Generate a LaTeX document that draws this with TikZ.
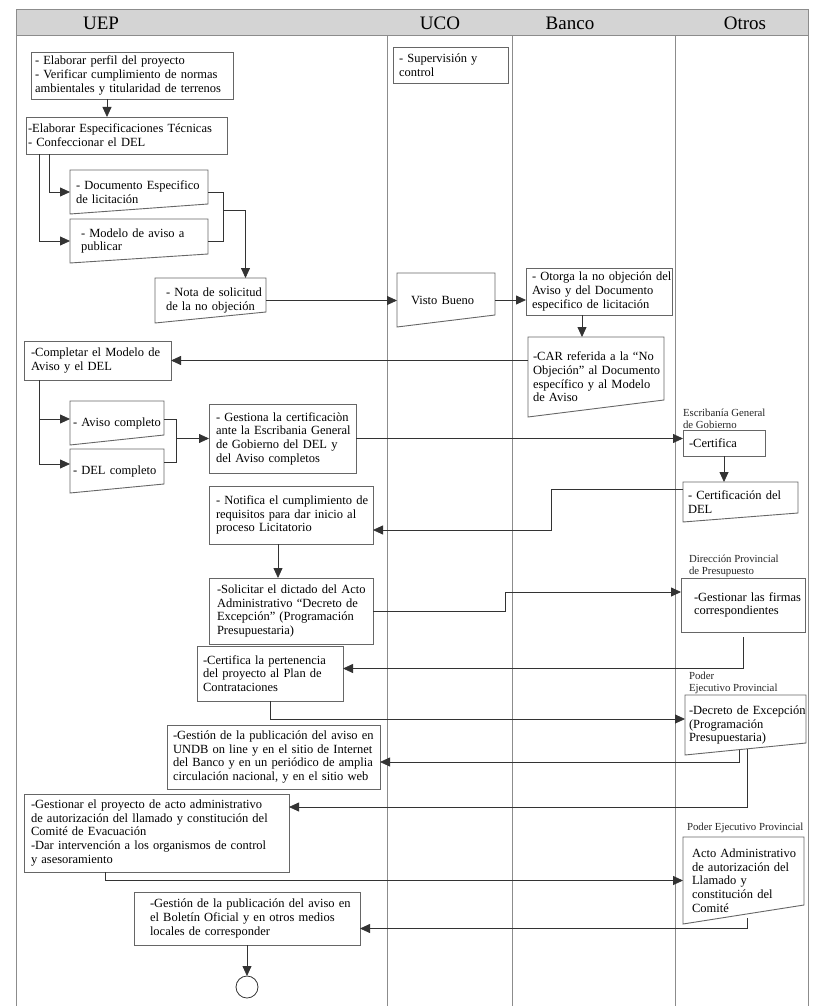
\documentclass[tikz,border=0pt]{standalone}
\usepackage{fontspec}
\setmainfont{Liberation Serif}
\usetikzlibrary{positioning,calc,arrows.meta}

\colorlet{lanegray}{black!45}
\colorlet{boxgray}{black!60}
\colorlet{headfill}{black!17}

\begin{document}
\begin{tikzpicture}[x=1pt,y=-1pt,outer sep=0pt,
  lane/.style={draw=lanegray, line width=1pt},
  headlabel/.style={font=\fontsize{19}{20}\selectfont},
  box/.style={
    draw=boxgray,
    line width=0.9pt,
    anchor=north west,
    inner xsep=0pt,
    inner ysep=2pt,
    align=left,
    font=\fontsize{12.5}{13.7}\selectfont,
    },
  lpad/.style={execute at begin node={\leftskip=#1}},
  docbox/.style={box, draw=none,
    append after command={\pgfextra{\let\docnode\tikzlastnode
      \draw[boxgray, line width=0.9pt] (\docnode.north west) -- (\docnode.north east)
        -- ([yshift=#1]\docnode.south east) -- (\docnode.south west) -- cycle;}}},
  laneinfo/.style={inner sep=0pt, align=left, font=\fontsize{10.8}{12}\selectfont, text=black!85},
  conn/.style={draw=black!80, line width=0.8pt},
  arr/.style={conn, -{Triangle[length=10pt,width=9pt]}},
  endstate/.style={circle, draw=black!80, line width=0.8pt, minimum size=22pt, inner sep=0pt},
  ]
  \useasboundingbox (0,0) rectangle (812,1006);

  % lanes
  \draw[lane, fill=headfill] (16,10) rectangle (808,36);
  \foreach \x in {16,387,512,675,808}
    \draw[lane] (\x,36) -- (\x,1006);

  \node[headlabel] (uep) at (101,23) {UEP};
  \node[headlabel] (uco) at (440,23) {UCO};
  \node[headlabel] (banco) at (570,23) {Banco};
  \node[headlabel] (otros) at (745,23) {Otros};

  % UEP
  \node[box, text width=202pt, minimum height=47pt, lpad=4pt] (perfil) at (31,52) {- Elaborar perfil del proyecto\\- Verificar cumplimiento de normas\\ambientales y titularidad de terrenos};
  \node[box, text width=201pt, minimum height=37pt, lpad=2pt] (espec) at (26,117) {-Elaborar Especificaciones Técnicas\\- Confeccionar el DEL};
  \node[docbox=10pt, text width=138pt, minimum height=44pt, lpad=6pt] (docesp) at (70,170) {- Documento Especifico\\de licitación};
  \node[docbox=9pt, text width=138pt, minimum height=44pt, lpad=11pt] (modelo) at (70,219) {- Modelo de aviso a\\publicar};
  \node[docbox=11pt, text width=111pt, minimum height=45pt, lpad=11pt] (nota) at (155,278) {- Nota de solicitud\\de la no objeción};
  \node[box, text width=147pt, minimum height=39pt, lpad=7pt] (completar) at (24,341) {-Completar el Modelo de\\Aviso y el DEL};
  \node[docbox=10pt, text width=94pt, minimum height=44pt, lpad=3pt] (aviso) at (70,401) {- Aviso completo};
  \node[docbox=9pt, text width=94pt, minimum height=44pt, lpad=3pt] (delc) at (70,449) {- DEL completo};
  \node[box, text width=147pt, minimum height=69pt, lpad=7pt] (gestiona) at (209,404) {- Gestiona la certificaciòn\\ante la Escribania General\\de Gobierno del DEL y\\del Aviso completos};
  \node[box, text width=164pt, minimum height=58pt, lpad=7pt] (notifica) at (209,486) {- Notifica el cumplimiento de\\requisitos para dar inicio al\\proceso Licitatorio};
  \node[box, text width=164pt, minimum height=66pt, lpad=8pt] (solicitar) at (209,578) {-Solicitar el dictado del Acto\\Administrativo “Decreto de\\Excepción” (Programación\\Presupuestaria)};
  \node[box, text width=146pt, minimum height=55pt, lpad=6pt] (pertenencia) at (197,646) {-Certifica la pertenencia\\del proyecto al Plan de\\Contrataciones};
  \node[box, text width=213pt, minimum height=64pt, lpad=6pt] (undb) at (167,725) {-Gestión de la publicación del aviso en\\UNDB on line y en el sitio de Internet\\del Banco y en un periódico de amplia\\circulación nacional, y en el sitio web};
  \node[box, text width=265pt, minimum height=78pt, lpad=7pt] (proyecto) at (24,794) {-Gestionar el proyecto de acto administrativo\\de autorización del llamado y constitución del\\Comité de Evacuación\\-Dar intervención a los organismos de control\\y asesoramiento};
  \node[box, text width=226pt, minimum height=53pt, lpad=16pt] (boletin) at (134,892) {-Gestión de la publicación del aviso en\\el Boletín Oficial y en otros medios\\locales de corresponder};
  \node[endstate, below=31pt of boletin] (fin) {};

  % UCO
  \node[box, text width=115pt, minimum height=36pt, lpad=6pt] (superv) at (393,47) {- Supervisión y\\control};
  \node[docbox=12pt, text width=98pt, minimum height=54pt, lpad=14pt] (visto) at (397,273) {Visto Bueno};

  % Banco
  \node[box, text width=146pt, minimum height=47pt, lpad=6pt] (otorga) at (526,268) {- Otorga la no objeción del\\Aviso y del Documento\\especifico de licitación};
  \node[docbox=17pt, text width=136pt, minimum height=80pt, lpad=5pt] (car) at (528,337) {-CAR referida a la “No\\Objeción” al Documento\\específico y al Modelo\\de Aviso};

  % Otros
  \node[box, text width=82pt, minimum height=26pt, lpad=6pt] (certifica) at (683,430) {-Certifica};
  \node[docbox=9pt, text width=115pt, minimum height=40pt, lpad=5pt] (certdel) at (683,482) {- Certificación del\\DEL};
  \node[box, text width=124pt, minimum height=54pt, lpad=13pt] (firmas) at (681,578) {-Gestionar las firmas\\correspondientes};
  \node[docbox=12pt, text width=121pt, minimum height=60pt, lpad=4pt] (decreto) at (685,695) {-Decreto de Excepción\\(Programación\\Presupuestaria)};
  \node[docbox=19pt, text width=121pt, minimum height=87pt, lpad=9pt] (acto) at (683,837) {Acto Administrativo\\de autorización del\\Llamado y\\constitución del\\Comité};

  \node[laneinfo, above right=1pt and 0pt of certifica.north west] (escribania) {Escribanía General\\de Gobierno};
  \node[laneinfo, above right=1pt and 8pt of firmas.north west] (dirprov) {Dirección Provincial\\de Presupuesto};
  \node[laneinfo, above right=1pt and 4pt of decreto.north west] (poderA) {Poder\\Ejecutivo Provincial};
  \node[laneinfo, above right=4pt and 4pt of acto.north west] (poderB) {Poder Ejecutivo Provincial};

  % connectors
  \draw[arr] ([xshift=-25pt]perfil.south) -- ([xshift=-19.5pt]espec.north);
  \draw[arr] ([xshift=23pt]espec.south west) |- (docesp.west);
  \draw[arr] ([xshift=13pt]espec.south west) |- (modelo.west);
  \draw[conn] (docesp.east) -- ++(15,0) coordinate (jdoc) |- (modelo.east);
  \draw[arr] ([yshift=-18pt]jdoc) -| ([xshift=35pt]nota.north);
  \draw[arr] (nota.east) -- (nota.east -| visto.west);
  \draw[arr] (visto.east) -- (visto.east -| otorga.west);
  \draw[arr] ([xshift=-17pt]otorga.south) -- ([xshift=-14pt]car.north);
  \draw[arr] (car.west |- completar.east) -- (completar.east);
  \draw[arr] ([xshift=15pt]completar.south west) |- ([yshift=4pt]aviso.west);
  \draw[arr] ([xshift=15pt]completar.south west) |- ([yshift=7pt]delc.west);
  \draw[conn] ([yshift=4pt]aviso.east) -- ++(12,0) coordinate (jav) |- ([yshift=9pt]delc.east);
  \draw[arr] (jav |- gestiona.west) -- (gestiona.west);
  \draw[arr] (gestiona.east) -- (gestiona.east -| certifica.west);
  \draw[arr] (certifica.south) -- (certifica.south |- certdel.north);
  \draw[arr] ([yshift=13pt]certdel.west) -- ++(-132,0) |- ([yshift=-15pt]notifica.east);
  \draw[arr] ([xshift=-13pt]notifica.south) -- ([xshift=-13pt]solicitar.north);
  \draw[arr] (solicitar.east) -- ++(132,0) |- ([yshift=13pt]firmas.west);
  \draw[arr] ([yshift=-5pt]firmas.south) |- ([yshift=5pt]pertenencia.east);
  \draw[arr] (pertenencia.south) |- ([yshift=6pt]decreto.west);
  \draw[arr] ([xshift=-6pt,yshift=5pt]decreto.south) |- ([yshift=-5pt]undb.east);
  \draw[arr] ([xshift=2pt,yshift=6pt]decreto.south) |- ([yshift=26pt]proyecto.east);
  \draw[arr] ([xshift=-51.5pt]proyecto.south) |- (acto.west);
  \draw[arr] ([xshift=3.5pt,yshift=6pt]acto.south) |- ([yshift=-10pt]boletin.east);
  \draw[arr] (boletin.south) -- (fin.north);

\end{tikzpicture}
\end{document}
